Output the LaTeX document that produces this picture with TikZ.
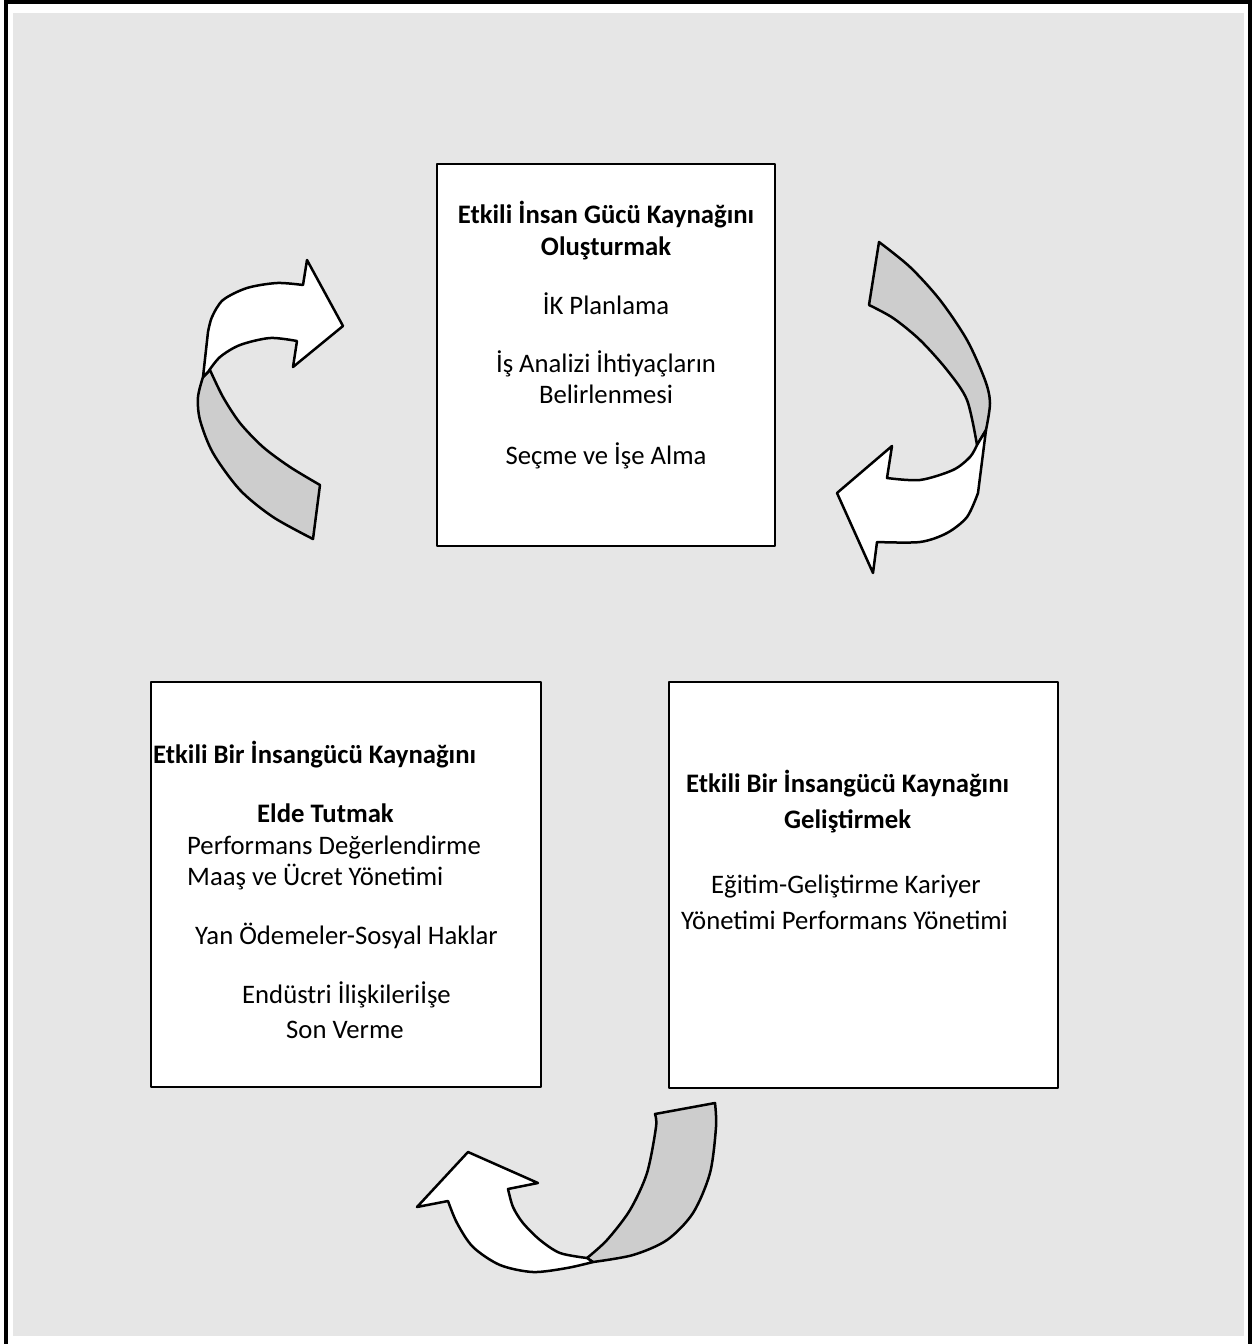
\documentclass[tikz,border=0pt]{standalone}
\usepackage{fontspec}
\setmainfont{Carlito}
\definecolor{bg}{RGB}{230,230,230}
\definecolor{band}{RGB}{205,205,205}
\begin{document}
\begin{tikzpicture}[x=1pt,y=-1pt,line join=round,line cap=round,font=\fontsize{26.7}{32}\selectfont,
		box/.style={draw,line width=2pt,fill=white,inner sep=0pt},
		txt/.style={inner sep=0pt,anchor=base},
		txl/.style={inner sep=0pt,anchor=base west},
		back/.style={draw,line width=2.5pt,fill=band},
		front/.style={draw,line width=2.5pt,fill=white}]
	\useasboundingbox (0,0) rectangle (1252,1344);
	\fill[bg] (13,13) rectangle (1244,1336);
	\draw[line width=4pt,line join=miter] (6,1344)--(6,2)--(1250,2)--(1250,1344);
	% the three boxes
	\node[box,minimum width=338pt,minimum height=382pt] (b1) at (606,355) {};
	\node[box,minimum width=390pt,minimum height=405pt] (b2) at (346,884) {};
	\node[box,minimum width=389pt,minimum height=406pt] (b3) at (863,885) {};
	\foreach \y/\t [count=\i] in {223/\textbf{Etkili İnsan Gücü Kaynağını},255/\textbf{Oluşturmak},314/İK Planlama,372/İş Analizi İhtiyaçların,403/Belirlenmesi,464/Seçme ve İşe Alma}
		\node[txt] (a\i) at (606,\y) {\t};
	\foreach \x/\y/\t [count=\i] in {153/763/\textbf{Etkili Bir İnsangücü Kaynağını},257/822/\textbf{Elde Tutmak},187/854/Performans Değerlendirme,187/885/Maaş ve Ücret Yönetimi,195/944/Yan Ödemeler-Sosyal Haklar,242/1003/Endüstri İlişkileriİşe,286/1038/Son Verme}
		\node[txl] (c\i) at (\x,\y) {\t};
	\foreach \x/\y/\t [count=\i] in {686/792/\textbf{Etkili Bir İnsangücü Kaynağını},784/828/\textbf{Geliştirmek},711/893/Eğitim-Geliştirme Kariyer,681/929/Yönetimi Performans Yönetimi}
		\node[txl] (g\i) at (\x,\y) {\t};
	% curved ribbon arrows
	\draw[back] (203,377) -- plot[smooth] coordinates {(203,377) (198,397) (200,420) (213,453) (240,490) (273,517) (313,539)}
		-- (320,485) -- plot[smooth] coordinates {(320,485) (290,467) (263,447) (240,423) (223,397) (210,370)} -- cycle;
	\draw[front] (203,377) -- (208,332) -- plot[smooth] coordinates {(208,332) (212,317) (223,300) (247,288) (277,283) (303,285)}
		-- (307,260) -- (343,326) -- (293,367) -- (297,341)
		-- plot[smooth] coordinates {(297,341) (270,338) (240,345) (220,357) (208,372)} -- cycle;
	\draw[back] (879,242) -- (869,305) -- plot[smooth] coordinates {(869,305) (893,318) (920,340) (947,370) (967,400) (977,445)}
		-- (986,430) -- plot[smooth] coordinates {(986,430) (990,403) (985,380) (967,340) (940,300) (910,267) (879,242)} -- cycle;
	\draw[front] (986,430) -- (978,493) -- plot[smooth] coordinates {(978,493) (967,517) (947,533) (920,542) (877,542)}
		-- (873,573) -- (837,493) -- (892,446) -- (887,478)
		-- plot[smooth] coordinates {(887,478) (920,480) (953,470) (970,457) (977,445)} -- cycle;
	\draw[back] (655,1114) -- (715,1103) -- plot[smooth] coordinates {(715,1103) (716,1127) (710,1173) (693,1213) (667,1240) (633,1255) (593,1262)}
		-- (587,1258) -- plot[smooth] coordinates {(587,1258) (607,1240) (630,1210) (647,1173) (656,1127) (655,1114)} -- cycle;
	\draw[front] (587,1258) -- plot[smooth] coordinates {(587,1258) (560,1253) (540,1240) (523,1223) (513,1207) (508,1189)}
		-- (538,1183) -- (468,1152) -- (417,1207) -- (448,1201)
		-- plot[smooth] coordinates {(448,1201) (457,1223) (473,1247) (500,1265) (533,1272) (567,1268) (593,1262)} -- cycle;
\end{tikzpicture}
\end{document}
